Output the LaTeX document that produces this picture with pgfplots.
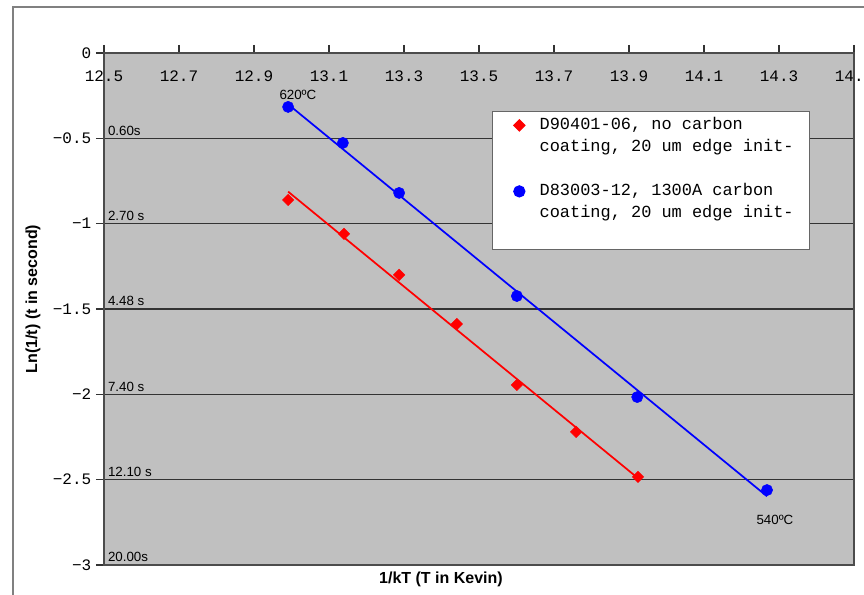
\documentclass[border=0pt]{standalone}
\usepackage{fontspec}
\setmainfont{Liberation Sans}
\setmonofont{Liberation Mono}
\usepackage{pgfplots}
\usepackage{pgfplotstable}
\pgfplotsset{compat=1.18}
\definecolor{plotgray}{RGB}{192,192,192}
\definecolor{framegray}{RGB}{128,128,128}

% no carbon coating
\pgfplotstableread{
x      y
12.991 -0.861
13.140 -1.060
13.287 -1.300
13.441 -1.588
13.601 -1.945
13.759 -2.220
13.924 -2.484
}\nocarbon

% 1300A carbon coating
\pgfplotstableread{
x      y
12.991 -0.316
13.137 -0.527
13.287 -0.820
13.601 -1.424
13.922 -2.016
14.268 -2.561
}\carbon

\begin{document}
\begin{tikzpicture}
\useasboundingbox (0,0) rectangle (648pt,446.25pt);
\draw[framegray, line width=1.2pt] (9.75pt,-5pt) -- (9.75pt,441pt) -- (660pt,441pt);
\begin{axis}[
  at={(78pt,22.5pt)}, anchor=south west,
  scale only axis, width=562.5pt, height=384pt,
  xmin=12.5, xmax=14.5, ymin=-3, ymax=0,
  axis background/.style={fill=plotgray},
  axis line style={draw=black!70, line width=0.9pt},
  xtick={12.5,12.7,12.9,13.1,13.3,13.5,13.7,13.9,14.1,14.3,14.5},
  xticklabels={12.5,12.7,12.9,13.1,13.3,13.5,13.7,13.9,14.1,14.3,14.5},
  ytick={-3,-2.5,-2,-1.5,-1,-0.5,0},
  yticklabels={−3,−2.5,−2,−1.5,−1,−0.5,0},
  xtick pos=upper, xticklabel pos=upper,
  ytick pos=left,
  tick align=outside, major tick length=6pt,
  tick style={black!80, line width=0.8pt},
  tick label style={font=\ttfamily\fontsize{12}{14}\selectfont},
  xticklabel style={anchor=north, yshift=-16pt},
  ymajorgrids, grid style={black!80, line width=0.9pt},
  xlabel={1/kT (T in Kevin)},
  ylabel={Ln(1/t) (t in second)},
  label style={font=\bfseries\fontsize{12}{14}\selectfont},
  xlabel style={at={(axis description cs:0.4493,-0.0273)}, anchor=center},
  ylabel style={at={(axis description cs:-0.0947,0.5195)}, anchor=center},
  legend style={at={(axis description cs:0.517,0.887)}, anchor=north west,
    draw=black!60, fill=white, line width=0.8pt,
    font=\ttfamily\fontsize{12.7}{15}\selectfont,
    inner xsep=11.75pt, inner ysep=4.5pt,
    nodes={inner sep=0pt, text height=9pt, text depth=3pt},
    row sep=4.5pt, column sep=11pt,
    cells={anchor=west}},
]
% trend lines
\addplot[red, line width=1.3pt, forget plot]
  table[x=x, y={create col/linear regression={y=y}}] {\nocarbon};
\addplot[blue, line width=1.3pt, forget plot]
  table[x=x, y={create col/linear regression={y=y}}] {\carbon};

\addplot[only marks, mark=square*, mark size=3pt, mark options={rotate=45}, red]
  table[x=x, y=y] {\nocarbon};
\addlegendentry{D90401-06, no carbon}
\addlegendimage{empty legend}
\addlegendentry{coating, 20 um edge init-}
\addlegendimage{empty legend}
\addlegendentry{\mbox{}}
\addplot[only marks, mark=*, mark size=4.2pt, blue]
  table[x=x, y=y] {\carbon};
\addlegendentry{D83003-12, 1300A carbon}
\addlegendimage{empty legend}
\addlegendentry{coating, 20 um edge init-}
\addlegendimage{empty legend}
\addlegendentry{\mbox{}}

\node[font=\fontsize{10}{12}\selectfont] at (axis cs:13.017,-0.246) {620ºC};
\node[font=\fontsize{10}{12}\selectfont] at (axis cs:14.289,-2.736) {540ºC};

\node[anchor=south west, inner sep=1pt, xshift=1.8pt, yshift=1pt, font=\fontsize{10}{12}\selectfont] at (axis cs:12.5,-0.5) {0.60s};
\node[anchor=south west, inner sep=1pt, xshift=1.8pt, yshift=1pt, font=\fontsize{10}{12}\selectfont] at (axis cs:12.5,-1) {2.70 s};
\node[anchor=south west, inner sep=1pt, xshift=1.8pt, yshift=1pt, font=\fontsize{10}{12}\selectfont] at (axis cs:12.5,-1.5) {4.48 s};
\node[anchor=south west, inner sep=1pt, xshift=1.8pt, yshift=1pt, font=\fontsize{10}{12}\selectfont] at (axis cs:12.5,-2) {7.40 s};
\node[anchor=south west, inner sep=1pt, xshift=1.8pt, yshift=1pt, font=\fontsize{10}{12}\selectfont] at (axis cs:12.5,-2.5) {12.10 s};
\node[anchor=south west, inner sep=1pt, xshift=1.8pt, yshift=1pt, font=\fontsize{10}{12}\selectfont] at (axis cs:12.5,-3) {20.00s};
\end{axis}
\end{tikzpicture}
\end{document}
